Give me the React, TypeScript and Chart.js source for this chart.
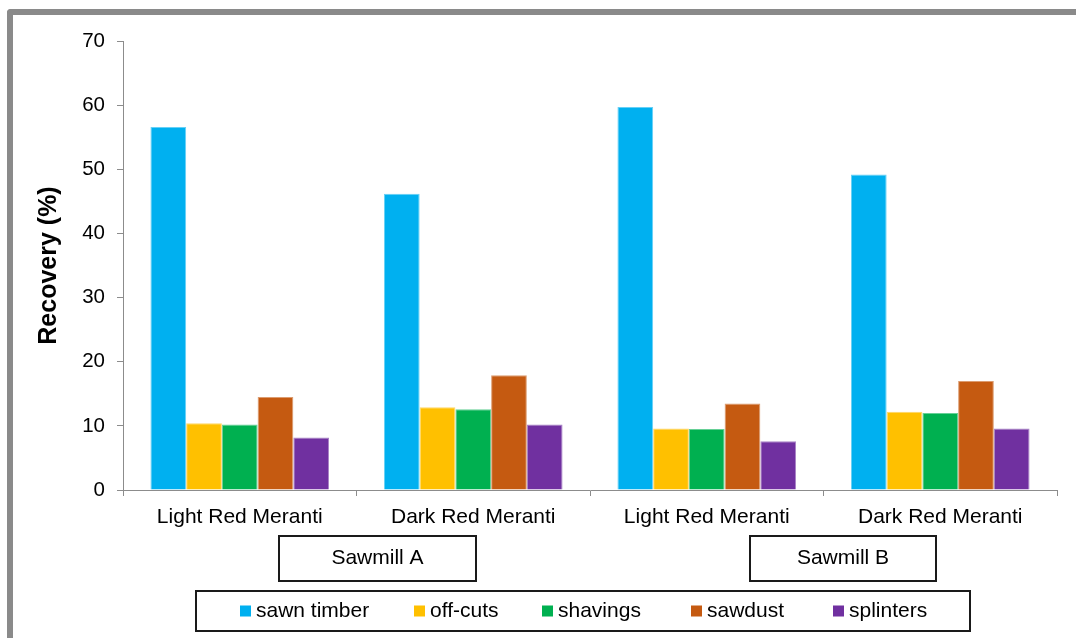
import React, { useEffect, useRef } from "react";
import { Chart, registerables } from "chart.js";

Chart.register(...registerables);

const categories = ["Light Red Meranti", "Dark Red Meranti", "Light Red Meranti", "Dark Red Meranti"];
const sawnTimber = [56.6, 46.2, 59.7, 49.2];
const offCuts = [10.4, 12.9, 9.6, 12.2];
const shavings = [10.2, 12.6, 9.5, 12.0];
const sawdust = [14.5, 17.9, 13.5, 17.0];
const splinters = [8.2, 10.2, 7.6, 9.6];
const seriesNames = ["sawn timber", "off-cuts", "shavings", "sawdust", "splinters"];
const seriesValues = [sawnTimber, offCuts, shavings, sawdust, splinters];
const seriesColors = ["#00B0F0", "#FFC000", "#00B050", "#C55A11", "#7030A0"];
const seriesEdges = ["#66d0f6", "#ffd666", "#66d096", "#dc9c70", "#a983c6"];
const sawmillLabels = ["Sawmill A", "Sawmill B"];
const yMin = 0;
const yMax = 70;
const yStep = 10;
const yTitle = "Recovery (%)";

const FONT = "'Liberation Sans', Arial, sans-serif";
const AXIS_GRAY = "#8c8c8c";

const overlayPlugin = {
  id: "overlay",
  afterDraw(chart: any) {
    const ctx = chart.ctx as CanvasRenderingContext2D;
    ctx.save();
    ctx.font = `21px ${FONT}`;
    ctx.fillStyle = "#000";
    ctx.strokeStyle = "#1a1a1a";
    ctx.lineWidth = 2;
    ctx.textBaseline = "middle";
    ctx.textAlign = "center";
    // sawmill boxes
    const boxes = [
      { x: 279, y: 536, w: 197, h: 45 },
      { x: 750, y: 536, w: 186, h: 45 },
    ];
    boxes.forEach((b, i) => {
      ctx.strokeRect(b.x, b.y, b.w, b.h);
      ctx.fillText(sawmillLabels[i], b.x + b.w / 2, b.y + b.h / 2);
    });
    // legend
    ctx.strokeRect(196, 591, 774, 40);
    const starts = [240, 414, 542, 691, 833];
    ctx.textAlign = "left";
    seriesNames.forEach((name, i) => {
      ctx.fillStyle = seriesColors[i];
      ctx.fillRect(starts[i], 605.5, 11, 11);
      ctx.fillStyle = "#000";
      ctx.fillText(name, starts[i] + 16, 611);
    });
    ctx.restore();
  },
};

export default function App() {
  const ref = useRef<HTMLCanvasElement | null>(null);

  useEffect(() => {
    if (!ref.current) return;
    const chart = new Chart(ref.current, {
      type: "bar",
      data: {
        labels: categories,
        datasets: seriesNames.map((name, i) => ({
          label: name,
          data: seriesValues[i],
          backgroundColor: seriesColors[i],
          borderColor: seriesEdges[i],
          borderWidth: 1,
          barPercentage: 1,
          categoryPercentage: 0.765,
        })),
      },
      options: {
        animation: false,
        responsive: false,
        devicePixelRatio: 1,
        layout: { padding: { left: 33, right: 19, top: 41, bottom: 108 } },
        plugins: {
          legend: { display: false },
          tooltip: { enabled: false },
        },
        scales: {
          x: {
            afterFit: (s: any) => {
              s.height = 40;
            },
            grid: {
              display: true,
              drawOnChartArea: false,
              drawTicks: true,
              tickLength: 6,
              color: AXIS_GRAY,
              offset: true,
            },
            border: { display: true, color: AXIS_GRAY, width: 1 },
            ticks: {
              color: "#000",
              padding: 9,
              maxRotation: 0,
              font: { family: FONT, size: 21 },
            },
          },
          y: {
            min: yMin,
            max: yMax,
            afterFit: (s: any) => {
              s.width = 90;
            },
            grid: {
              display: true,
              drawOnChartArea: false,
              drawTicks: true,
              tickLength: 6,
              color: AXIS_GRAY,
            },
            border: { display: true, color: AXIS_GRAY, width: 1 },
            ticks: {
              stepSize: yStep,
              color: "#000",
              padding: 12,
              font: { family: FONT, size: 20.5 },
            },
            title: {
              display: true,
              text: yTitle,
              color: "#000",
              padding: { top: 1, bottom: 0 },
              font: { family: FONT, size: 25, weight: "bold" },
            },
          },
        },
      },
      plugins: [overlayPlugin],
    } as any);
    return () => chart.destroy();
  }, []);

  return (
    <div>
      <div
        style={{
          position: "fixed",
          left: 7,
          top: 9,
          width: 1100,
          height: 660,
          borderLeft: "6px solid #8a8a8a",
          borderTop: "6px solid #8a8a8a",
          borderTopLeftRadius: 4,
          boxSizing: "border-box",
        }}
      />
      <canvas
        ref={ref}
        width={1076}
        height={638}
        style={{ position: "fixed", left: 0, top: 0, width: 1076, height: 638, display: "block" }}
      />
    </div>
  );
}
